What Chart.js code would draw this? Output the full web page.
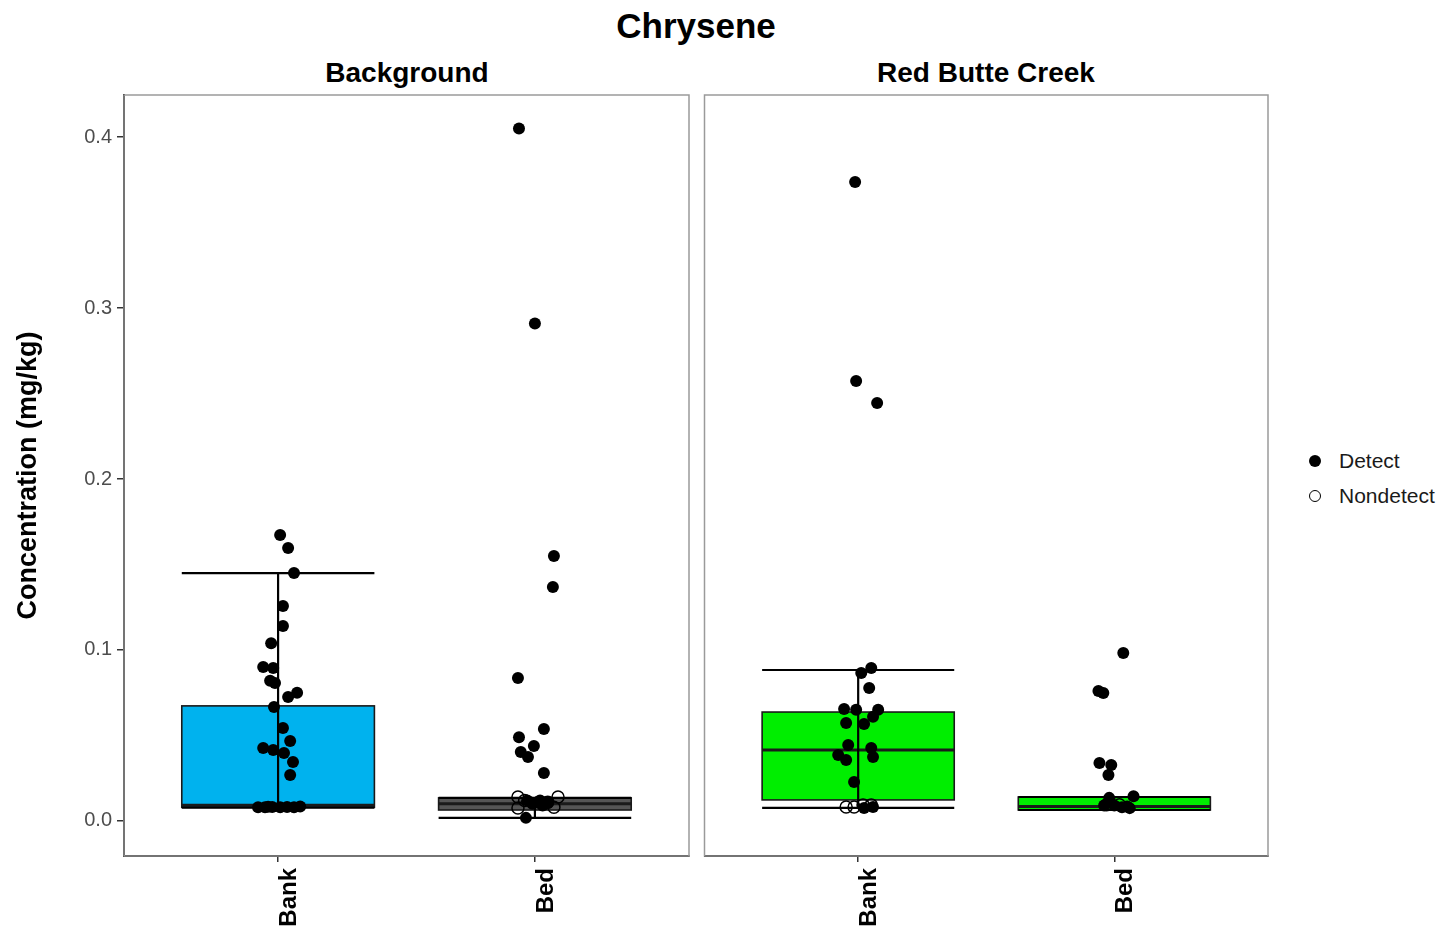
<!DOCTYPE html>
<html>
<head>
<meta charset="utf-8">
<title>Chrysene</title>
<script src="https://cdn.jsdelivr.net/npm/chart.js@4.4.1/dist/chart.umd.min.js"></script>
<style>
  body { margin: 0; background: #fff; width: 1445px; height: 928px; position: relative; overflow: hidden; font-family: "Liberation Sans", Arial, sans-serif; }
  canvas { position: absolute; top: 0; }
  .label { position: absolute; white-space: nowrap; transform: translate(-50%, -50%); color: #000; font-weight: bold; }
  .legend-item { position: absolute; left: 1309px; height: 22px; display: flex; align-items: center; font-size: 21px; color: #1a1a1a; transform: translateY(-50%); }
  .sym { width: 12px; height: 12px; border-radius: 50%; margin-right: 18px; box-sizing: border-box; }
</style>
</head>
<body>
<div class="label" style="left:696px; top:26px; font-size:35px;">Chrysene</div>
<div class="label" id="strip0" style="left:407px; top:73px; font-size:28px;"></div>
<div class="label" id="strip1" style="left:986px; top:73px; font-size:28px;"></div>
<canvas id="bgChart" width="697" height="928" style="left:0px;"></canvas>
<canvas id="rbcChart" width="583" height="928" style="left:697px;"></canvas>
<div class="legend-item" style="top:461px;"><span class="sym" style="background:#000;"></span><span id="lg0"></span></div>
<div class="legend-item" style="top:496px;"><span class="sym" style="border:1.6px solid #000;"></span><span id="lg1"></span></div>

<script>
// Chrysene concentrations by location (Background / Red Butte Creek) and medium
const categories = ["Bank", "Bed"];
const panelNames = ["Background", "Red Butte Creek"];
const legendNames = ["Detect", "Nondetect"];
const yTicks = [0.0, 0.1, 0.2, 0.3, 0.4];

// box stats, one entry per category [Bank, Bed]
const bgWhiskerLow = [0.0078, 0.0018];
const bgQ1 = [0.0080, 0.0064];
const bgMedian = [0.0092, 0.0100];
const bgQ3 = [0.0673, 0.0135];
const bgWhiskerHigh = [0.1450, 0.0135];

const rbcWhiskerLow = [0.0076, 0.0064];
const rbcQ1 = [0.0123, 0.0064];
const rbcMedian = [0.0415, 0.0085];
const rbcQ3 = [0.0637, 0.0140];
const rbcWhiskerHigh = [0.0883, 0.0140];

const bgFill = ["#00B2EE", "#555555"];
const rbcFill = ["#00EE00", "#00EE00"];

// sample points (values in mg/kg, jitter in category units)
const bgBankDetectY = [0.1673, 0.1596, 0.145, 0.1257, 0.114, 0.104, 0.090, 0.0895, 0.082, 0.0807, 0.075, 0.0725, 0.0667, 0.0544, 0.0468, 0.0427, 0.0415, 0.0398, 0.0345, 0.0269, 0.0080, 0.0080, 0.0082, 0.0080, 0.0082, 0.0080, 0.0085, 0.0083];
const bgBankDetectJ = [0.008, 0.039, 0.062, 0.019, 0.019, -0.027, -0.058, -0.019, -0.031, -0.012, 0.074, 0.039, -0.016, 0.019, 0.047, -0.058, -0.019, 0.023, 0.058, 0.047, -0.078, -0.051, -0.023, 0.008, 0.035, 0.062, 0.086, -0.039];
const bgBankNondetectY = [];
const bgBankNondetectJ = [];

const bgBedDetectY = [0.405, 0.291, 0.155, 0.1368, 0.0836, 0.0538, 0.049, 0.0439, 0.0403, 0.0374, 0.028, 0.0018, 0.012, 0.010, 0.011, 0.009, 0.0105, 0.012];
const bgBedDetectJ = [-0.062, 0.0, 0.074, 0.070, -0.066, 0.035, -0.062, -0.004, -0.055, -0.027, 0.035, -0.035, -0.03, -0.01, 0.01, 0.03, 0.05, 0.02];
const bgBedNondetectY = [0.014, 0.014, 0.0076, 0.008, 0.012, 0.011];
const bgBedNondetectJ = [-0.066, 0.090, -0.066, 0.074, -0.04, 0.05];

const rbcBankDetectY = [0.3737, 0.2573, 0.2444, 0.0895, 0.0865, 0.0778, 0.0655, 0.065, 0.065, 0.0573, 0.0567, 0.061, 0.0444, 0.0427, 0.0386, 0.0357, 0.0374, 0.0228, 0.0082, 0.0076];
const rbcBankDetectJ = [-0.012, -0.008, 0.074, 0.051, 0.012, 0.043, -0.055, -0.008, 0.078, -0.047, 0.023, 0.058, -0.039, 0.051, -0.078, -0.047, 0.058, -0.016, 0.058, 0.023];
const rbcBankNondetectY = [0.0082, 0.0082, 0.0094, 0.0094];
const rbcBankNondetectJ = [-0.047, -0.016, 0.019, 0.051];

const rbcBedDetectY = [0.0982, 0.076, 0.0749, 0.0339, 0.0327, 0.0269, 0.0135, 0.0145, 0.009, 0.008, 0.0085, 0.009, 0.0075];
const rbcBedDetectJ = [0.035, -0.062, -0.043, -0.058, -0.012, -0.023, -0.02, 0.075, 0.0, 0.03, 0.05, -0.04, 0.06];
const rbcBedNondetectY = [0.0095, 0.0095];
const rbcBedNondetectJ = [-0.03, 0.02];

const FONT = "'Liberation Sans', Arial, sans-serif";
const BOX_HALF = 0.375;

document.getElementById("strip0").textContent = panelNames[0];
document.getElementById("strip1").textContent = panelNames[1];
document.getElementById("lg0").textContent = legendNames[0];
document.getElementById("lg1").textContent = legendNames[1];

function toPoints(groups) {
  // groups: [[yValues, jitter], ...] indexed by category
  const out = [];
  groups.forEach(([ys, js], i) => {
    ys.forEach((y, k) => out.push({ x: i + 1 + js[k], y: y }));
  });
  return out;
}

// draws gray panel frame + boxes with full-width whisker caps
const boxPlugin = {
  id: "boxes",
  beforeDatasetsDraw(chart, args, opts) {
    const { ctx, chartArea: a, scales: { x, y } } = chart;
    ctx.save();
    ctx.strokeStyle = "#9a9a9a";
    ctx.lineWidth = 1.5;
    ctx.strokeRect(a.left, a.top, a.right - a.left, a.bottom - a.top);

    opts.q1.forEach((q1, i) => {
      const xl = x.getPixelForValue(i + 1 - BOX_HALF);
      const xr = x.getPixelForValue(i + 1 + BOX_HALF);
      const xc = x.getPixelForValue(i + 1);
      const yq1 = y.getPixelForValue(q1);
      const yq3 = y.getPixelForValue(opts.q3[i]);
      const ymed = y.getPixelForValue(opts.median[i]);
      const ylo = y.getPixelForValue(opts.low[i]);
      const yhi = y.getPixelForValue(opts.high[i]);

      ctx.fillStyle = opts.fill[i];
      ctx.fillRect(xl, yq3, xr - xl, yq1 - yq3);
      ctx.strokeStyle = "#1a1a1a";
      ctx.lineWidth = 1.6;
      ctx.strokeRect(xl, yq3, xr - xl, yq1 - yq3);

      ctx.lineWidth = 3;
      ctx.beginPath();
      ctx.moveTo(xl, ymed);
      ctx.lineTo(xr, ymed);
      ctx.stroke();

      ctx.strokeStyle = "#000";
      ctx.lineWidth = 2.2;
      ctx.beginPath();
      ctx.moveTo(xc, ylo);
      ctx.lineTo(xc, yhi);
      ctx.moveTo(xl, ylo);
      ctx.lineTo(xr, ylo);
      ctx.moveTo(xl, yhi);
      ctx.lineTo(xr, yhi);
      ctx.stroke();
    });
    ctx.restore();
  }
};

function createPanel(canvasId, stats, detect, nondetect, showY, padding) {
  const ctx = document.getElementById(canvasId).getContext("2d");
  return new Chart(ctx, {
    type: "scatter",
    data: {
      datasets: [
        {
          label: legendNames[1],
          data: toPoints(nondetect),
          pointRadius: 6,
          pointBackgroundColor: "rgba(0,0,0,0)",
          pointBorderColor: "#000",
          pointBorderWidth: 1.5,
        },
        {
          label: legendNames[0],
          data: toPoints(detect),
          pointRadius: 6,
          pointBackgroundColor: "#000",
          pointBorderColor: "#000",
          pointBorderWidth: 0,
        },
      ],
    },
    options: {
      responsive: false,
      animation: false,
      events: [],
      devicePixelRatio: 1,
      layout: { padding: padding },
      plugins: {
        legend: { display: false },
        tooltip: { enabled: false },
        boxes: stats,
      },
      scales: {
        x: {
          type: "linear",
          min: 0.4,
          max: 2.6,
          afterBuildTicks: (scale) => { scale.ticks = categories.map((c, i) => ({ value: i + 1 })); },
          afterFit: (scale) => { scale.height = 72; },
          ticks: {
            callback: (v) => categories[v - 1],
            minRotation: 90,
            maxRotation: 90,
            autoSkip: false,
            padding: 6,
            labelOffset: 11,
            color: "#000",
            font: { family: FONT, size: 24, weight: "bold" },
          },
          grid: { drawOnChartArea: false, drawTicks: true, tickLength: 6, color: "#333", lineWidth: 1.5 },
          border: { display: true, color: "#000", width: 2 },
        },
        y: {
          display: showY,
          min: -0.0205,
          max: 0.4246,
          afterBuildTicks: (scale) => { scale.ticks = yTicks.map((v) => ({ value: v })); },
          afterFit: (scale) => { scale.width = showY ? 124 : 0; },
          ticks: {
            callback: (v) => v.toFixed(1),
            padding: 5,
            color: "#4d4d4d",
            font: { family: FONT, size: 20 },
          },
          grid: { drawOnChartArea: false, drawTicks: true, tickLength: 7, color: "#333", lineWidth: 1.5 },
          border: { display: true, color: "#000", width: 2 },
          title: {
            display: true,
            text: "Concentration (mg/kg)",
            color: "#000",
            padding: { top: 12, bottom: 0 },
            font: { family: FONT, size: 27, weight: "bold", lineHeight: 1.2 },
          },
        },
      },
    },
    plugins: [boxPlugin],
  });
}

document.addEventListener("DOMContentLoaded", () => {
  createPanel(
    "bgChart",
    { q1: bgQ1, median: bgMedian, q3: bgQ3, low: bgWhiskerLow, high: bgWhiskerHigh, fill: bgFill },
    [[bgBankDetectY, bgBankDetectJ], [bgBedDetectY, bgBedDetectJ]],
    [[bgBankNondetectY, bgBankNondetectJ], [bgBedNondetectY, bgBedNondetectJ]],
    true,
    { left: 0, right: 8, top: 95, bottom: 0 }
  );
  createPanel(
    "rbcChart",
    { q1: rbcQ1, median: rbcMedian, q3: rbcQ3, low: rbcWhiskerLow, high: rbcWhiskerHigh, fill: rbcFill },
    [[rbcBankDetectY, rbcBankDetectJ], [rbcBedDetectY, rbcBedDetectJ]],
    [[rbcBankNondetectY, rbcBankNondetectJ], [rbcBedNondetectY, rbcBedNondetectJ]],
    false,
    { left: 0, right: 12, top: 95, bottom: 0 }
  );
});
</script>
</body>
</html>
